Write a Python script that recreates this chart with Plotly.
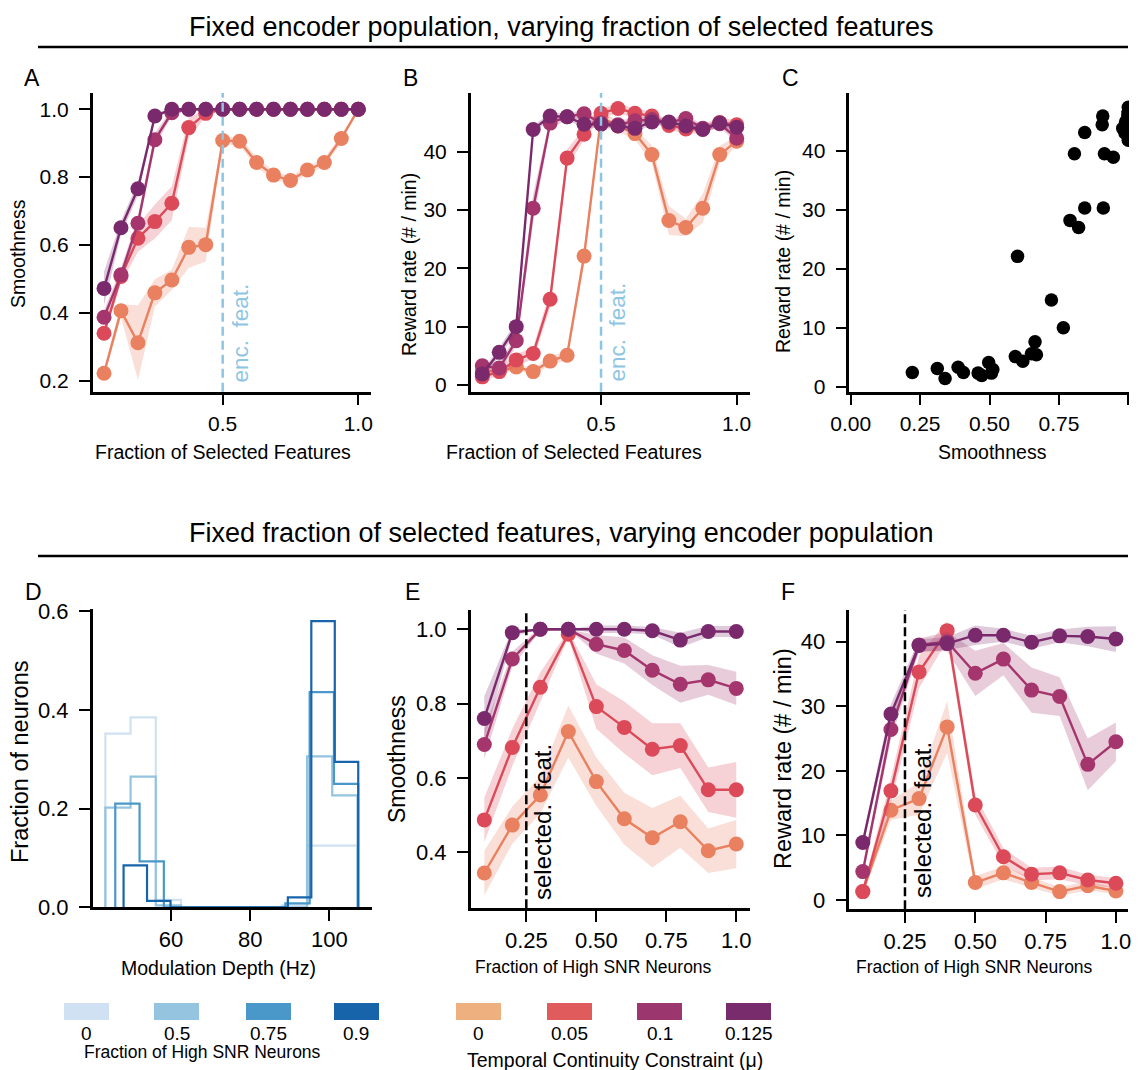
import numpy as np
import plotly.graph_objects as go

W, H = 1140, 1070
FONT = "Liberation Sans, Arial, sans-serif"

# ---------------- data ----------------
frac_selected = [0.0625, 0.125, 0.1875, 0.25, 0.3125, 0.375, 0.4375, 0.5,
                 0.5625, 0.625, 0.6875, 0.75, 0.8125, 0.875, 0.9375, 1.0]
frac_high_snr = [0.1, 0.2, 0.3, 0.4, 0.5, 0.6, 0.7, 0.8, 0.9, 1.0]

mu_labels = ["0", "0.05", "0.1", "0.125"]
mu_colors = ["#e9805f", "#dc4a5a", "#a5356d", "#7a2a6c"]
mu_legend_colors = ["#eeb07f", "#e05c5c", "#9c366e", "#782c6c"]

# Panel A: smoothness vs fraction of selected features
smooth_feat_mu0 = [0.222, 0.406, 0.312, 0.459, 0.497, 0.593, 0.601, 0.908,
                   0.906, 0.843, 0.806, 0.790, 0.821, 0.843, 0.914, 1.0]
smooth_feat_mu005 = [0.340, 0.507, 0.620, 0.669, 0.723, 0.946, 0.988, 1.0,
                     1.0, 1.0, 1.0, 1.0, 1.0, 1.0, 1.0, 1.0]
smooth_feat_mu01 = [0.387, 0.512, 0.664, 0.910, 0.990, 1.0, 1.0, 1.0,
                    1.0, 1.0, 1.0, 1.0, 1.0, 1.0, 1.0, 1.0]
smooth_feat_mu0125 = [0.472, 0.651, 0.766, 0.980, 1.0, 1.0, 1.0, 1.0,
                      1.0, 1.0, 1.0, 1.0, 1.0, 1.0, 1.0, 1.0]
smooth_feat_mu0_err = [0.01, 0.02, 0.11, 0.04, 0.03, 0.06, 0.05, 0.012,
                       0.012, 0.015, 0.012, 0.012, 0.012, 0.012, 0.012, 0.0]
smooth_feat_mu005_err = [0.01, 0.02, 0.04, 0.05, 0.05, 0.03, 0.01, 0.0,
                         0.0, 0.0, 0.0, 0.0, 0.0, 0.0, 0.0, 0.0]
smooth_feat_mu01_err = [0.02, 0.02, 0.02, 0.02, 0.01, 0.0, 0.0, 0.0,
                        0.0, 0.0, 0.0, 0.0, 0.0, 0.0, 0.0, 0.0]
smooth_feat_mu0125_err = [0.05, 0.02, 0.02, 0.01, 0.0, 0.0, 0.0, 0.0,
                          0.0, 0.0, 0.0, 0.0, 0.0, 0.0, 0.0, 0.0]

# Panel B: reward rate vs fraction of selected features
reward_feat_mu0 = [2.4, 2.4, 3.1, 2.3, 4.1, 5.1, 22.1, 45.9,
                   44.4, 43.1, 39.5, 28.2, 27.0, 30.3, 39.5, 41.8]
reward_feat_mu005 = [1.4, 2.3, 4.3, 5.4, 14.7, 38.9, 43.0, 46.6,
                     47.4, 46.6, 46.1, 44.5, 43.9, 43.9, 45.0, 44.6]
reward_feat_mu01 = [3.3, 2.9, 7.6, 30.3, 44.9, 46.0, 46.5, 44.9,
                    44.6, 45.3, 45.5, 45.0, 45.7, 44.0, 44.8, 42.3]
reward_feat_mu0125 = [1.9, 5.6, 10.0, 43.8, 46.1, 46.0, 44.7, 44.7,
                      44.4, 44.0, 45.1, 45.1, 44.4, 43.8, 44.9, 44.2]
reward_feat_mu0_err = [0.5, 0.5, 0.6, 0.5, 0.8, 0.8, 1.5, 1.0,
                       1.0, 1.0, 1.5, 2.5, 1.5, 2.5, 1.5, 0.8]
reward_feat_mu005_err = [0.5, 0.8, 1.0, 1.0, 1.5, 1.5, 1.0, 0.8,
                         0.8, 0.8, 0.8, 0.8, 0.8, 0.8, 0.8, 0.8]
reward_feat_mu01_err = [0.6, 0.8, 1.0, 2.5, 0.8, 0.6, 0.6, 0.6,
                        0.6, 0.6, 0.6, 0.6, 0.6, 0.6, 0.6, 0.8]
reward_feat_mu0125_err = [0.5, 0.8, 1.0, 0.6, 0.6, 0.6, 0.6, 0.6,
                          0.6, 0.6, 0.6, 0.6, 0.6, 0.6, 0.6, 0.6]

# Panel D: modulation depth histograms
hist_frac_labels = ["0", "0.5", "0.75", "0.9"]
hist_colors = ["#cfe1f2", "#94c4df", "#4a98c9", "#1764ab"]
hist_lo = [43.4, 43.4, 45.9, 48.0]
hist_hi = [107.1, 107.1, 107.3, 107.3]
hist_frac0 = [0.352, 0.385, 0.015, 0.0, 0.0, 0.0, 0.0, 0.004, 0.125, 0.125]
hist_frac05 = [0.202, 0.265, 0.004, 0.0, 0.0, 0.0, 0.0, 0.0, 0.306, 0.227]
hist_frac075 = [0.210, 0.093, 0.0, 0.0, 0.0, 0.0, 0.0, 0.008, 0.436, 0.250]
hist_frac09 = [0.085, 0.013, 0.0, 0.0, 0.0, 0.0, 0.0, 0.020, 0.580, 0.295]

# Panel E: smoothness vs fraction of high SNR neurons
smooth_snr_mu0 = [0.344, 0.473, 0.554, 0.725, 0.590, 0.490, 0.439, 0.482, 0.404, 0.422]
smooth_snr_mu005 = [0.487, 0.682, 0.844, 0.987, 0.792, 0.736, 0.677, 0.687, 0.568, 0.568]
smooth_snr_mu01 = [0.690, 0.920, 1.0, 1.0, 0.960, 0.943, 0.890, 0.852, 0.864, 0.841]
smooth_snr_mu0125 = [0.760, 0.991, 1.0, 1.0, 1.0, 1.0, 0.996, 0.971, 0.994, 0.994]
smooth_snr_mu0_err = [0.06, 0.05, 0.05, 0.07, 0.065, 0.07, 0.08, 0.07, 0.06, 0.065]
smooth_snr_mu005_err = [0.06, 0.05, 0.04, 0.01, 0.06, 0.07, 0.07, 0.06, 0.06, 0.075]
smooth_snr_mu01_err = [0.04, 0.02, 0.005, 0.0, 0.025, 0.035, 0.04, 0.05, 0.04, 0.045]
smooth_snr_mu0125_err = [0.06, 0.01, 0.0, 0.0, 0.01, 0.01, 0.01, 0.02, 0.015, 0.015]

# Panel F: reward rate vs fraction of high SNR neurons
reward_snr_mu0 = [1.3, 13.9, 15.7, 26.8, 2.7, 4.2, 2.7, 1.3, 2.2, 1.4]
reward_snr_mu005 = [1.3, 16.9, 35.3, 41.7, 14.7, 6.7, 4.0, 4.2, 3.1, 2.6]
reward_snr_mu01 = [4.4, 26.4, 39.5, 40.0, 35.1, 37.3, 32.5, 31.5, 21.0, 24.5]
reward_snr_mu0125 = [8.9, 28.8, 39.4, 39.7, 41.0, 41.0, 39.9, 40.9, 40.8, 40.4]
reward_snr_mu0_err = [0.5, 1.5, 2.5, 4.0, 1.0, 1.0, 0.8, 0.7, 0.7, 0.5]
reward_snr_mu005_err = [0.5, 2.0, 2.5, 1.5, 1.5, 1.3, 1.0, 1.0, 0.8, 0.8]
reward_snr_mu01_err = [0.8, 1.5, 1.0, 1.5, 3.5, 2.5, 3.5, 3.0, 4.0, 3.0]
reward_snr_mu0125_err = [0.8, 1.5, 1.0, 1.0, 1.5, 1.0, 1.0, 1.0, 1.5, 2.0]

# ---------------- helpers ----------------
def px(x):
    return x / W


def py(y):
    return 1 - y / H


def rgba(hexc, a):
    h = hexc.lstrip("#")
    r, g, b = int(h[0:2], 16), int(h[2:4], 16), int(h[4:6], 16)
    return f"rgba({r},{g},{b},{a})"


fig = go.Figure()


def add_band_series(xs, ys, errs, color, xa, ya, name):
    xs = list(xs)
    up = [v + e for v, e in zip(ys, errs)]
    lo = [v - e for v, e in zip(ys, errs)]
    fig.add_trace(go.Scatter(x=xs + xs[::-1], y=up + lo[::-1], fill="toself",
                             fillcolor=rgba(color, 0.25), line=dict(width=0),
                             mode="lines", hoverinfo="skip", showlegend=False,
                             xaxis=xa, yaxis=ya))
    fig.add_trace(go.Scatter(x=xs, y=ys, mode="lines+markers", name=name,
                             line=dict(color=color, width=2.4),
                             marker=dict(color=color, size=15),
                             showlegend=False, xaxis=xa, yaxis=ya))


A_vals = [smooth_feat_mu0, smooth_feat_mu005, smooth_feat_mu01, smooth_feat_mu0125]
A_errs = [smooth_feat_mu0_err, smooth_feat_mu005_err, smooth_feat_mu01_err, smooth_feat_mu0125_err]
B_vals = [reward_feat_mu0, reward_feat_mu005, reward_feat_mu01, reward_feat_mu0125]
B_errs = [reward_feat_mu0_err, reward_feat_mu005_err, reward_feat_mu01_err, reward_feat_mu0125_err]
E_vals = [smooth_snr_mu0, smooth_snr_mu005, smooth_snr_mu01, smooth_snr_mu0125]
E_errs = [smooth_snr_mu0_err, smooth_snr_mu005_err, smooth_snr_mu01_err, smooth_snr_mu0125_err]
F_vals = [reward_snr_mu0, reward_snr_mu005, reward_snr_mu01, reward_snr_mu0125]
F_errs = [reward_snr_mu0_err, reward_snr_mu005_err, reward_snr_mu01_err, reward_snr_mu0125_err]

for i in range(4):
    add_band_series(frac_selected, A_vals[i], A_errs[i], mu_colors[i], "x", "y", mu_labels[i])
for i in range(4):
    add_band_series(frac_selected, B_vals[i], B_errs[i], mu_colors[i], "x2", "y2", mu_labels[i])

# Panel C: reward vs smoothness (pairs from A and B)
c_x = [v for s in A_vals for v in s]
c_y = [v for s in B_vals for v in s]
fig.add_trace(go.Scatter(x=c_x, y=c_y, mode="markers",
                         marker=dict(color="black", size=13.5),
                         showlegend=False, xaxis="x3", yaxis="y3"))

# Panel D: step histograms
hist_counts = [hist_frac0, hist_frac05, hist_frac075, hist_frac09]
for i in range(4):
    edges = list(np.linspace(hist_lo[i], hist_hi[i], len(hist_counts[i]) + 1))
    xs = [edges[0]] + edges + [edges[-1]]
    ys = [0] + list(hist_counts[i]) + [hist_counts[i][-1], 0]
    fig.add_trace(go.Scatter(x=xs, y=ys, mode="lines", line_shape="hv",
                             line=dict(color=hist_colors[i], width=2.2),
                             showlegend=False, xaxis="x4", yaxis="y4"))

for i in range(4):
    add_band_series(frac_high_snr, E_vals[i], E_errs[i], mu_colors[i], "x5", "y5", mu_labels[i])
for i in range(4):
    add_band_series(frac_high_snr, F_vals[i], F_errs[i], mu_colors[i], "x6", "y6", mu_labels[i])

# ---------------- axes ----------------
def axis(domain, rng, tickvals, ticktext, anchor, size, standoff):
    return dict(domain=domain, range=rng, tickvals=tickvals, ticktext=ticktext,
                anchor=anchor, showline=True, linecolor="black", linewidth=2.5,
                ticks="outside", ticklen=11, tickwidth=2, tickcolor="black",
                showgrid=False, zeroline=False, ticklabelstandoff=standoff,
                automargin=False, fixedrange=True,
                tickfont=dict(family=FONT, size=size, color="black"))


top_y = [py(391.7), py(93)]
bot_y = [py(908.3), py(610)]
colA = [px(92.7), px(371)]
colB = [px(470.7), px(750)]
colC = [px(849.3), px(1129)]

fig.update_layout(
    xaxis=axis(colA, [0.0207, 1.047], [0.5, 1.0], ["0.5", "1.0"], "y", 21, 0),
    yaxis=axis(top_y, [0.1676, 1.048], [0.2, 0.4, 0.6, 0.8, 1.0],
               ["0.2", "0.4", "0.6", "0.8", "1.0"], "x", 21, 6),
    xaxis2=axis(colB, [0.0197, 1.049], [0.5, 1.0], ["0.5", "1.0"], "y2", 21, 0),
    yaxis2=axis(top_y, [-1.15, 50.06], [0, 10, 20, 30, 40],
                ["0", "10", "20", "30", "40"], "x2", 21, 6),
    xaxis3=axis(colC, [-0.005, 1.0025], [0, 0.25, 0.5, 0.75, 1.0],
                ["0.00", "0.25", "0.50", "0.75", "1.0"], "y3", 21, 0),
    yaxis3=axis(top_y, [-0.85, 49.8], [0, 10, 20, 30, 40],
                ["0", "10", "20", "30", "40"], "x3", 21, 6),
    xaxis4=axis([px(92.7), px(371.7)], [40.2, 110.7], [60, 80, 100],
                ["60", "80", "100"], "y4", 22, 0),
    yaxis4=axis([py(907.3), py(609)], [0, 0.6047], [0, 0.2, 0.4, 0.6],
                ["0.0", "0.2", "0.4", "0.6"], "x4", 22, 6),
    xaxis5=axis(colB, [0.0514, 1.049], [0.25, 0.5, 0.75, 1.0],
                ["0.25", "0.50", "0.75", "1.0"], "y5", 22, 0),
    yaxis5=axis(bot_y, [0.249, 1.052], [0.4, 0.6, 0.8, 1.0],
                ["0.4", "0.6", "0.8", "1.0"], "x5", 22, 6),
    xaxis6=axis([px(849.3), px(1128)], [0.052, 1.043], [0.25, 0.5, 0.75, 1.0],
                ["0.25", "0.50", "0.75", "1.0"], "y6", 22, 0),
    yaxis6=axis([py(909.3), py(610)], [-1.44, 44.9], [0, 10, 20, 30, 40],
                ["0", "10", "20", "30", "40"], "x6", 22, 6),
)

shapes = []
annotations = []


def text(x, y, s, size, color="black", angle=0, xanchor="center", yanchor="middle"):
    annotations.append(dict(x=px(x), y=py(y), xref="paper", yref="paper", text=s,
                            showarrow=False, textangle=angle, xanchor=xanchor,
                            yanchor=yanchor,
                            font=dict(family=FONT, size=size, color=color)))


# section titles and rules
text(561, 27, "Fixed encoder population, varying fraction of selected features", 27)
text(561, 533, "Fixed fraction of selected features, varying encoder population", 27)
for yy in (47, 556):
    shapes.append(dict(type="line", xref="paper", yref="paper", x0=px(38), x1=px(1128),
                       y0=py(yy), y1=py(yy), line=dict(color="black", width=2.5)))

# panel letters
for lbl, x, y in [("A", 32, 78), ("B", 410, 78), ("C", 790, 78),
                  ("D", 33, 592), ("E", 412, 592), ("F", 788, 592)]:
    text(x, y, lbl, 23)

# axis titles
text(223, 452, "Fraction of Selected Features", 19.5)
text(574, 452, "Fraction of Selected Features", 19.5)
text(992, 452, "Smoothness", 19.5)
text(18, 254, "Smoothness", 19.5, angle=-90)
text(409, 265, "Reward rate (# / min)", 19.5, angle=-90)
text(783, 262, "Reward rate (# / min)", 19.5, angle=-90)
text(219, 968, "Modulation Depth (Hz)", 19.5)
text(593, 967, "Fraction of High SNR Neurons", 17.5)
text(974, 967, "Fraction of High SNR Neurons", 17.5)
text(20, 762, "Fraction of neurons", 23.5, angle=-90)
text(397, 759, "Smoothness", 23, angle=-90)
text(783, 759, "Reward rate (# / min)", 23.5, angle=-90)

# reference vertical lines
enc_color = "#8ec5e3"
for xa in ("x", "x2"):
    shapes.append(dict(type="line", xref=xa, yref=("y" if xa == "x" else "y2") + " domain",
                       x0=0.5, x1=0.5, y0=0, y1=1,
                       line=dict(color=enc_color, width=2.5, dash="9px,5px")))
for xa, ya in (("x5", "y5"), ("x6", "y6")):
    shapes.append(dict(type="line", xref=xa, yref=ya + " domain",
                       x0=0.25, x1=0.25, y0=0, y1=1,
                       line=dict(color="black", width=2.5, dash="9px,4px")))
text(240, 385, "enc.\u00a0\u00a0feat.", 22.5, color=enc_color, angle=-90, yanchor="bottom")
text(617, 384, "enc.\u00a0\u00a0feat.", 22.5, color=enc_color, angle=-90, yanchor="bottom")
text(542, 902, "selected.\u00a0\u00a0feat.", 24, angle=-90, yanchor="bottom")
text(922, 900, "selected.\u00a0\u00a0feat.", 24, angle=-90, yanchor="bottom")

# legends (colour patches)
for lbl, col, x0 in zip(hist_frac_labels, hist_colors, [64, 154, 246, 334]):
    shapes.append(dict(type="rect", xref="paper", yref="paper", x0=px(x0), x1=px(x0 + 45),
                       y0=py(1020), y1=py(1003), fillcolor=col, line=dict(width=0)))
    text(x0 + 22.5, 1033, lbl, 19)
text(202, 1052, "Fraction of High SNR Neurons", 17.5)
for lbl, col, x0 in zip(mu_labels, mu_legend_colors, [456, 547, 637, 726]):
    shapes.append(dict(type="rect", xref="paper", yref="paper", x0=px(x0), x1=px(x0 + 45),
                       y0=py(1020), y1=py(1003), fillcolor=col, line=dict(width=0)))
    text(x0 + 22.5, 1033, lbl, 19)
text(615, 1060, "Temporal Continuity Constraint (\u03bc)", 19.5)

fig.update_layout(width=W, height=H, autosize=False,
                  margin=dict(l=0, r=0, t=0, b=0, pad=0),
                  paper_bgcolor="white", plot_bgcolor="white",
                  shapes=shapes, annotations=annotations,
                  font=dict(family=FONT, color="black"),
                  showlegend=False)

fig.write_html("out.html", config={"displayModeBar": False},
               post_script="document.body.style.margin='0';"
                           "document.body.style.overflow='hidden';")
